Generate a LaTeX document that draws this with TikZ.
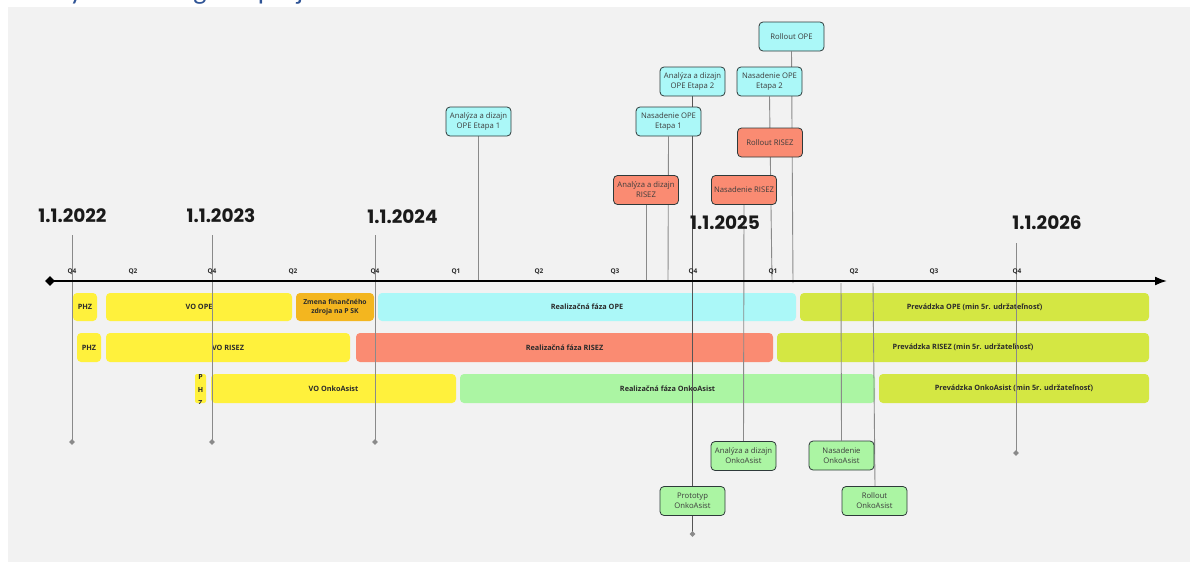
\documentclass[tikz,border=0pt]{standalone}
\usepackage{fontspec}
\setmainfont{Open Sans}
\newfontfamily\yearfont{Poppins}
\newfontfamily\titlefont{Carlito}
\usetikzlibrary{arrows.meta,shapes.geometric}
\definecolor{bgGray}{HTML}{F2F2F2}
\definecolor{cYellow}{HTML}{FFF13C}
\definecolor{cOrange}{HTML}{F3B61F}
\definecolor{cCyan}{HTML}{ABF8F8}
\definecolor{cSalmon}{HTML}{FA8B72}
\definecolor{cGreen}{HTML}{ABF5A3}
\definecolor{cLime}{HTML}{D4E743}
\definecolor{msBorder}{HTML}{2E3A3A}
\definecolor{lineGray}{HTML}{8A8A8A}
\definecolor{lineDark}{HTML}{555555}
\definecolor{yearTxt}{HTML}{1A1A1A}
\definecolor{barTxt}{HTML}{2B2B2B}
\definecolor{msTxt}{HTML}{3C3C3C}
\definecolor{titleBlue}{HTML}{2F5496}
\pgfdeclarelayer{barlayer}
\pgfdeclarelayer{linelayer}
\pgfsetlayers{barlayer,linelayer,main}
\begin{document}
\begin{tikzpicture}[x=1pt,y=-1pt,
  bar/.style={rounded corners=4pt, inner sep=0pt, align=center,
    font=\fontsize{7.3}{8.5}\selectfont\bfseries, text=barTxt},
  ms/.style={draw=msBorder, line width=0.8pt, rounded corners=4pt,
    minimum width=65pt, minimum height=29pt, inner sep=1pt, align=center,
    font=\fontsize{7.7}{10}\selectfont, text=msTxt},
  conn/.style={draw=lineGray, line width=0.9pt},
  yr/.style={font=\yearfont\bfseries\fontsize{18.5}{20}\selectfont, text=yearTxt, inner sep=0pt},
  ql/.style={font=\fontsize{6.5}{7}\selectfont\bfseries, text=barTxt, inner sep=0pt},
  enddot/.style={diamond, fill=lineGray, inner sep=0pt, minimum size=6pt}]
\useasboundingbox (0,0) rectangle (1190,562);

\begin{pgfonlayer}{barlayer}
\fill[white] (0,0) rectangle (1190,562);
\fill[bgGray] (8,7) rectangle (1190,562);
\begin{scope}
\clip (0,0) rectangle (1190,7);
\node[anchor=base west, inner sep=0pt, font=\titlefont\fontsize{28}{30}\selectfont, text=titleBlue] (title) at (3,-1) {Časový harmonogram projektu};
\end{scope}

% row 1
\node[bar, fill=cYellow, minimum width=24pt, minimum height=28pt] (phz1) at (85,307) {PHZ};
\node[bar, fill=cYellow, minimum width=186pt, minimum height=28pt] (voope) at (199,307) {VO OPE};
\node[bar, fill=cOrange, minimum width=78pt, minimum height=28pt, font=\fontsize{6.8}{8.5}\selectfont\bfseries] (zmena) at (335,307) {Zmena finančného\\zdroja na P SK};
\node[bar, fill=cCyan, minimum width=418pt, minimum height=28pt] (realope) at (587,307) {Realizačná fáza OPE};
\node[bar, fill=cLime, minimum width=349pt, minimum height=28pt] (prevope) at (974.5,307) {Prevádzka OPE (min 5r. udržateľnosť)};
% row 2
\node[bar, fill=cYellow, minimum width=24pt, minimum height=29pt] (phz2) at (89,347.5) {PHZ};
\node[bar, fill=cYellow, minimum width=244pt, minimum height=29pt] (vorisez) at (228,347.5) {VO RISEZ};
\node[bar, fill=cSalmon, minimum width=417pt, minimum height=29pt] (realrisez) at (564.5,347.5) {Realizačná fáza RISEZ};
\node[bar, fill=cLime, minimum width=372pt, minimum height=29pt] (prevrisez) at (963,347.5) {Prevádzka RISEZ (min 5r. udržateľnosť)};
% row 3
\node[bar, rounded corners=2pt, fill=cYellow, minimum width=11pt, minimum height=29pt] (phz3) at (200.5,388.5) {};
\begin{scope}
\clip (195,374) rectangle (206,403);
\node[bar, anchor=north, font=\fontsize{7}{13}\selectfont\bfseries] (phz3t) at (200.5,374.5) {P\\H\\Z};
\end{scope}
\node[bar, fill=cYellow, minimum width=245pt, minimum height=29pt] (voonko) at (333.5,388.5) {VO OnkoAsist};
\node[bar, fill=cGreen, minimum width=415pt, minimum height=29pt] (realonko) at (667.5,388.5) {Realizačná fáza OnkoAsist};
\node[bar, fill=cLime, minimum width=270pt, minimum height=29pt] (prevonko) at (1014,388.5) {Prevádzka OnkoAsist (min 5r. udržateľnosť)};
\end{pgfonlayer}

% milestones
\node[ms, fill=cCyan] (msA1) at (478.5,121.5) {Analýza a dizajn\\OPE Etapa 1};
\node[ms, fill=cCyan] (msA2) at (692.5,81.5) {Analýza a dizajn\\OPE Etapa 2};
\node[ms, fill=cCyan] (msN1) at (668.5,121.5) {Nasadenie OPE\\Etapa 1};
\node[ms, fill=cCyan] (msRO) at (791.5,36.5) {Rollout OPE};
\node[ms, fill=cCyan] (msN2) at (769.5,81.5) {Nasadenie OPE\\Etapa 2};
\node[ms, fill=cSalmon] (msRR) at (770,142.5) {Rollout RISEZ};
\node[ms, fill=cSalmon] (msAR) at (646,190) {Analýza a dizajn\\RISEZ};
\node[ms, fill=cSalmon] (msNR) at (744,190) {Nasadenie RISEZ};
\node[ms, fill=cGreen] (msAO) at (743.5,456) {Analýza a dizajn\\OnkoAsist};
\node[ms, fill=cGreen] (msP) at (692.5,501) {Prototyp\\OnkoAsist};
\node[ms, fill=cGreen] (msNO) at (841.5,455.5) {Nasadenie\\OnkoAsist};
\node[ms, fill=cGreen] (msRoO) at (874.5,501) {Rollout\\OnkoAsist};

% year labels
\node[yr] (y22) at (72.5,216) {1.1.2022};
\node[yr] (y23) at (221,216) {1.1.2023};
\node[yr] (y24) at (402.5,217) {1.1.2024};
\node[yr] (y25) at (725,223) {1.1.2025};
\node[yr] (y26) at (1047,223) {1.1.2026};

% quarter labels
\node[ql] (q1) at (72,272) {Q4};
\node[ql] (q2) at (133,272) {Q2};
\node[ql] (q3) at (212,272) {Q4};
\node[ql] (q4) at (293,272) {Q2};
\node[ql] (q5) at (375,272) {Q4};
\node[ql] (q6) at (456,272) {Q1};
\node[ql] (q7) at (539,272) {Q2};
\node[ql] (q8) at (615,272) {Q3};
\node[ql] (q9) at (693,272) {Q4};
\node[ql] (q10) at (773,272) {Q1};
\node[ql] (q11) at (854,272) {Q2};
\node[ql] (q12) at (934,272) {Q3};
\node[ql] (q13) at (1017,272) {Q4};

% axis
\node[diamond, fill=black, inner sep=0pt, minimum size=10pt] (axstart) at (50,281) {};
\coordinate (axend) at (1167,281);
\draw[line width=1.8pt, -{Latex[length=12pt,width=9pt]}] (axstart.center) -- (axend);

% coordinates for connector ends
\coordinate (t22) at (72,235);
\coordinate (t23) at (212,235);
\coordinate (t24) at (375,235);
\coordinate (t26) at (1016,243);
\node[enddot] (d22) at (72,442) {};
\node[enddot] (d23) at (212,442) {};
\node[enddot] (d24) at (375,442) {};
\node[enddot] (d26) at (1016,453) {};
\node[enddot] (d25) at (692.5,534) {};
\coordinate (aA1) at (478.5,281);
\coordinate (aN1) at (668,281);
\coordinate (aAR) at (646,281);
\coordinate (aRO) at (793,283);
\coordinate (aN2) at (772,281);
\coordinate (aNO) at (841,283);
\coordinate (aRoO) at (873,283);

\begin{pgfonlayer}{linelayer}
\draw[conn] (t22) -- (d22.center);
\draw[conn] (t23) -- (d23.center);
\draw[conn] (t24) -- (d24.center);
\draw[conn] (t26) -- (d26.center);
\draw[conn, draw=lineDark] (msA2.south) -- (d25.center);
\draw[conn] (msA1.south) -- (aA1);
\draw[conn] (msN1.south) -- (aN1);
\draw[conn] (msAR.south) -- (aAR);
\draw[conn] (msRO.south) -- (aRO);
\draw[conn] (msN2.south) -- (aN2);
\draw[conn] (msNR.south) -- (msAO.north);
\draw[conn] (aNO) -- (msNO.north);
\draw[conn] (aRoO) -- ([xshift=0.5pt]msRoO.north);
\end{pgfonlayer}
\end{tikzpicture}
\end{document}
